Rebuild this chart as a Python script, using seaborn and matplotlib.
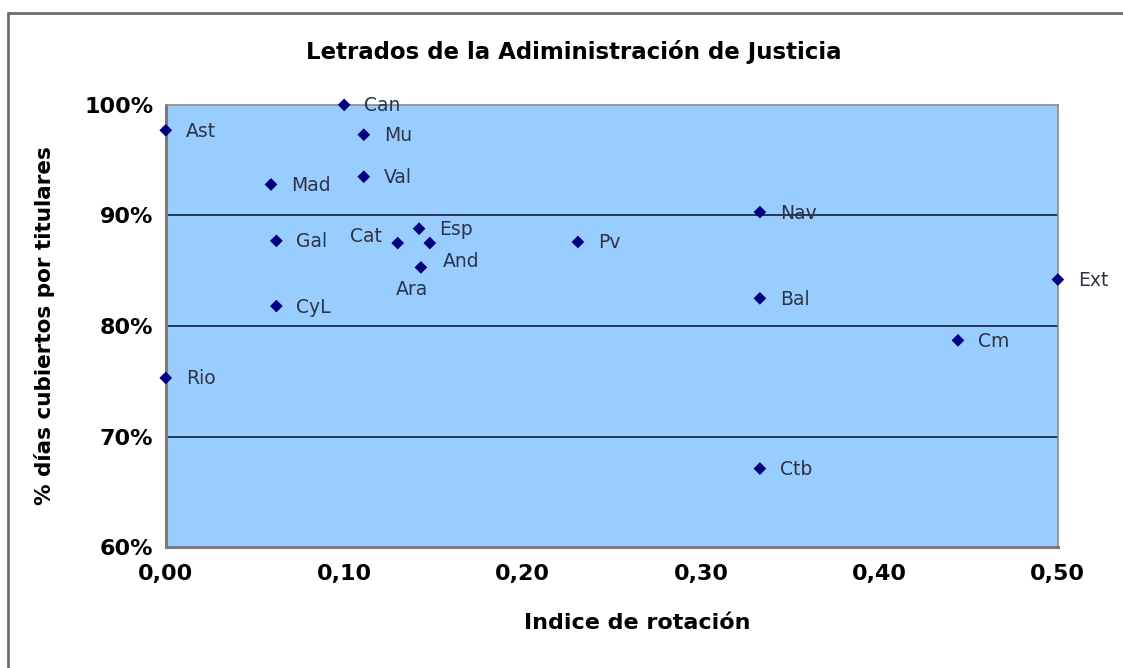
import pandas as pd
import seaborn as sns
import matplotlib.pyplot as plt
from matplotlib.lines import Line2D
from matplotlib.ticker import FuncFormatter

# datos
regiones = ["Can", "Ast", "Mu", "Val", "Mad", "Gal", "Cat", "Esp", "And", "Ara",
            "CyL", "Rio", "Pv", "Nav", "Bal", "Ctb", "Cm", "Ext"]
indice_rotacion = [0.100, 0.000, 0.111, 0.111, 0.059, 0.062, 0.130, 0.142, 0.148, 0.143,
                   0.062, 0.000, 0.231, 0.333, 0.333, 0.333, 0.444, 0.500]
pct_titulares = [1.000, 0.977, 0.973, 0.935, 0.928, 0.877, 0.875, 0.888, 0.875, 0.853,
                 0.818, 0.753, 0.876, 0.903, 0.825, 0.671, 0.787, 0.842]

df = pd.DataFrame({"Region": regiones, "Indice": indice_rotacion, "Pct": pct_titulares})

sns.set_style("white")
plt.rcParams['font.family'] = ['DejaVu Sans']
plt.rcParams['text.color'] = 'black'
plt.rcParams['axes.labelcolor'] = 'black'
plt.rcParams['xtick.labelcolor'] = 'black'
plt.rcParams['ytick.labelcolor'] = 'black'

fig = plt.figure(figsize=(11.23, 6.68), dpi=100)
ax = fig.add_axes([0.1476, 0.181, 0.7944, 0.662])
ax.set_facecolor("#99CCFF")

# líneas de división horizontales
for yv in [0.7, 0.8, 0.9]:
    ax.axhline(yv, color="#1c2b4a", lw=1.3, zorder=1)

sns.scatterplot(data=df, x="Indice", y="Pct", marker="D", color="#000080",
                s=42, edgecolor="none", ax=ax, zorder=3, clip_on=False)

# posición de las etiquetas (px): por defecto a la derecha
offsets = {"Cat": (-16, 7, "right"), "And": (13, -18, "left"), "Ara": (-9, -22, "center")}
for reg, xv, yv in zip(regiones, indice_rotacion, pct_titulares):
    dx, dy, ha = offsets.get(reg, (20, -1, "left"))
    ax.annotate(reg, (xv, yv), xytext=(dx * 0.72, dy * 0.72), textcoords="offset points",
                ha=ha, va="center", fontsize=13.5, color="#2e3346", zorder=4)

ax.set_xlim(0, 0.5)
ax.set_ylim(0.6, 1.0)
ax.set_xticks([0, 0.1, 0.2, 0.3, 0.4, 0.5])
ax.set_yticks([0.6, 0.7, 0.8, 0.9, 1.0])
ax.xaxis.set_major_formatter(FuncFormatter(lambda v, p: f"{v:.2f}".replace(".", ",")))
ax.yaxis.set_major_formatter(FuncFormatter(lambda v, p: f"{v * 100:.0f}%"))
ax.tick_params(axis="both", direction="out", length=7, width=1.2, color="#808080",
               labelsize=16)
ax.tick_params(axis="y", pad=2)
ax.tick_params(axis="x", pad=5)
for lab in ax.get_xticklabels() + ax.get_yticklabels():
    lab.set_fontweight("bold")

for side in ["left", "bottom"]:
    ax.spines[side].set_color("#7a7a7a")
    ax.spines[side].set_linewidth(2.2)
for side in ["top", "right"]:
    ax.spines[side].set_visible(True)
    ax.spines[side].set_color("#8a8a8a")
    ax.spines[side].set_linewidth(1.2)

ax.set_xlabel("Indice de rotación", fontsize=16, fontweight="bold")
ax.set_ylabel("% días cubiertos por titulares", fontsize=15.5, fontweight="bold")
ax.xaxis.set_label_coords(0.528, -0.15)
ax.yaxis.set_label_coords(-0.124, 0.5)

fig.text(574 / 1123, 1 - 52 / 668, "Letrados de la Adiministración de Justicia",
         ha="center", va="center", fontsize=16.5, fontweight="bold")

# borde del área del gráfico
fig.add_artist(Line2D([7.5 / 1123, 7.5 / 1123], [0, 1 - 13 / 668], color="#6e6e6e", lw=2))
fig.add_artist(Line2D([7.5 / 1123, 1], [1 - 13 / 668, 1 - 13 / 668], color="#6e6e6e", lw=2))

plt.savefig("out.png", dpi=100)
